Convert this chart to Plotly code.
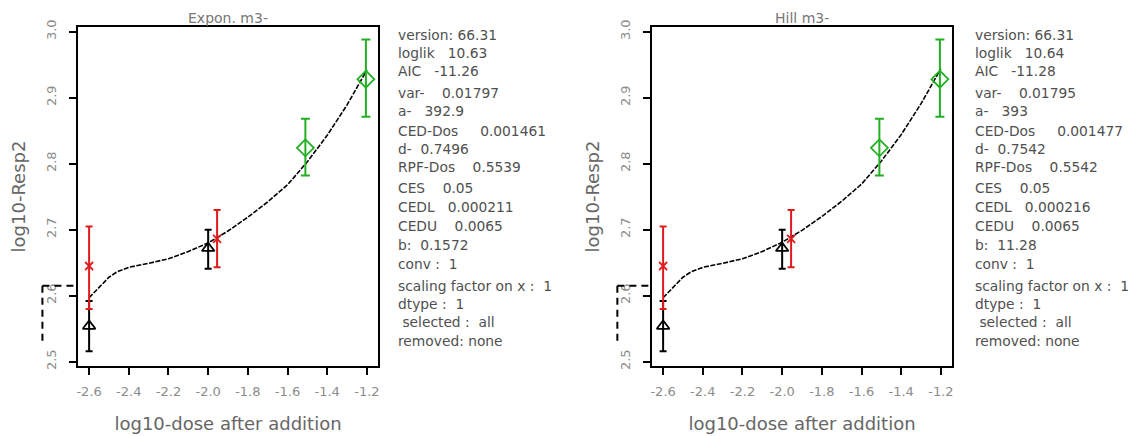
import math
import plotly.graph_objects as go

# ---------------- data ----------------
black_x = [-2.6, -2.0]
black_y = [2.554, 2.672]
black_lo = [2.516, 2.641]
black_hi = [2.592, 2.700]

red_x = [-2.6, -1.955]
red_y = [2.645, 2.686]
red_lo = [2.580, 2.643]
red_hi = [2.705, 2.730]

green_x = [-1.51, -1.205]
green_y = [2.824, 2.928]
green_lo = [2.782, 2.871]
green_hi = [2.868, 2.988]

curve_x = [-2.6, -2.57, -2.54, -2.5, -2.46, -2.4, -2.3, -2.2, -2.1, -2.0, -1.9, -1.8, -1.7,
           -1.6, -1.5, -1.4, -1.3, -1.2]
expon_y = [2.597, 2.606, 2.616, 2.628, 2.636, 2.643, 2.649, 2.656, 2.667, 2.680, 2.698, 2.719, 2.742,
           2.768, 2.803, 2.843, 2.889, 2.942]
hill_y = [2.597, 2.606, 2.616, 2.628, 2.636, 2.643, 2.649, 2.656, 2.667, 2.681, 2.699, 2.720, 2.743,
          2.769, 2.804, 2.844, 2.891, 2.944]

ced_expon = 0.001461
ced_hill = 0.001477
ces_level = 2.615
ced_drop = 2.53

x_ticks = [-2.6, -2.4, -2.2, -2.0, -1.8, -1.6, -1.4, -1.2]
x_ticktext = ["-2.6", "-2.4", "-2.2", "-2.0", "-1.8", "-1.6", "-1.4", "-1.2"]
y_ticks = [2.5, 2.6, 2.7, 2.8, 2.9, 3.0]
y_ticktext = ["2.5", "2.6", "2.7", "2.8", "2.9", "3.0"]

titles = ["Expon. m3-", "Hill m3-"]
expon_text = ["version: 66.31", "loglik   10.63", "AIC   -11.26", "var-    0.01797", "a-   392.9",
              "CED-Dos     0.001461", "d-  0.7496", "RPF-Dos    0.5539", "CES    0.05", "CEDL   0.000211",
              "CEDU    0.0065", "b:  0.1572", "conv :  1", "scaling factor on x :  1", "dtype :  1",
              " selected :  all", "removed: none"]
hill_text = ["version: 66.31", "loglik   10.64", "AIC   -11.28", "var-    0.01795", "a-   393",
             "CED-Dos     0.001477", "d-  0.7542", "RPF-Dos    0.5542", "CES    0.05", "CEDL   0.000216",
             "CEDU    0.0065", "b:  11.28", "conv :  1", "scaling factor on x :  1", "dtype :  1",
             " selected :  all", "removed: none"]
text_rows_px = [35, 53, 71, 93, 111, 131, 149, 167, 188, 207, 226, 245, 264, 286, 304, 322, 341]

W, H = 1143, 436
XR = [-2.656, -1.144]
YR = [2.4935, 3.0071]
doms = [[78 / W, 378 / W], [652 / W, 952 / W]]
ydom = [1 - 366 / H, 1 - 27 / H]

fig = go.Figure()
RED = "#e01b1b"
GREEN = "#22b022"
TXT = "#505050"
GRAY = "#8c8c8c"
FONT = "DejaVu Sans, Liberation Sans, sans-serif"

shapes = []
for i, (cy, ced, title, lines) in enumerate([(expon_y, ced_expon, titles[0], expon_text),
                                            (hill_y, ced_hill, titles[1], hill_text)]):
    xa = "x" if i == 0 else "x2"
    ya = "y" if i == 0 else "y2"
    # fitted curve
    fig.add_trace(go.Scatter(x=curve_x, y=cy, mode="lines", xaxis=xa, yaxis=ya,
                             line=dict(color="black", width=1.6, dash="5px,1.5px"),
                             showlegend=False, hoverinfo="skip"))
    # CED marker lines (outside the plot box, x converted through the axis scale)
    d = doms[i]
    scale = (d[1] - d[0]) / (XR[1] - XR[0])

    def to_paper(v, d=d, scale=scale):
        return d[0] + (v - XR[0]) * scale

    lc = math.log10(ced)
    dash_line = dict(color="black", width=2, dash="7px,5px")
    shapes.append(dict(type="line", xref="paper", yref=ya, x0=to_paper(lc), x1=to_paper(XR[0]),
                       y0=ces_level, y1=ces_level, line=dash_line))
    shapes.append(dict(type="line", xref="paper", yref=ya, x0=to_paper(lc), x1=to_paper(lc),
                       y0=ces_level, y1=ced_drop, line=dash_line))
    for xs, ys, lo, hi, col, sym, size, cap in [
        (black_x, black_y, black_lo, black_hi, "black", "triangle-up-open", 11, 3.5),
        (red_x, red_y, red_lo, red_hi, RED, "x-thin-open", 8, 3.5),
        (green_x, green_y, green_lo, green_hi, GREEN, "diamond-open", 13, 4.5),
    ]:
        fig.add_trace(go.Scatter(
            x=xs, y=ys, mode="markers", xaxis=xa, yaxis=ya,
            marker=dict(symbol=sym, size=size, color=col, line=dict(color=col, width=1.8)),
            error_y=dict(type="data", symmetric=False,
                         array=[h - m for h, m in zip(hi, ys)],
                         arrayminus=[m - l for l, m in zip(lo, ys)],
                         color=col, thickness=2, width=cap),
            showlegend=False, hoverinfo="skip"))
    fig.add_annotation(text=title, xref="paper", yref="paper", x=(d[0] + d[1]) / 2, y=1 - 18 / H,
                       showarrow=False, font=dict(size=14, color="#777777", family=FONT),
                       xanchor="center", yanchor="middle")
    tx = (396 if i == 0 else 973) / W
    for ln, row in zip(lines, text_rows_px):
        fig.add_annotation(text=ln.replace(" ", "&nbsp;"), xref="paper", yref="paper", x=tx, y=1 - row / H,
                           showarrow=False, xanchor="left", yanchor="middle",
                           font=dict(size=13.8, color=TXT, family=FONT))

axis_common = dict(showline=True, mirror=True, linecolor="black", linewidth=1.5,
                   ticks="outside", ticklen=7, tickwidth=1.5, tickcolor="black", automargin=False,
                   showgrid=False, zeroline=False, tickfont=dict(size=13, color=GRAY, family=FONT))
layout = dict(width=W, height=H, margin=dict(l=0, r=0, t=0, b=0, autoexpand=False),
              plot_bgcolor="white", paper_bgcolor="white", showlegend=False, shapes=shapes)
for i in range(2):
    sfx = "" if i == 0 else "2"
    layout["xaxis" + sfx] = dict(domain=doms[i], range=XR, anchor="y" + sfx, tickvals=x_ticks,
                                 ticktext=x_ticktext, ticklabelstandoff=6,
                                 title=dict(text="log10-dose after addition", standoff=19,
                                            font=dict(size=18, color="#666666", family=FONT)),
                                 **axis_common)
    layout["yaxis" + sfx] = dict(domain=ydom, range=YR, anchor="x" + sfx, tickvals=y_ticks,
                                 ticktext=y_ticktext, tickangle=-90, ticklabelstandoff=8,
                                 title=dict(text="log10-Resp2", standoff=14,
                                            font=dict(size=18, color="#666666", family=FONT)),
                                 **axis_common)
fig.update_layout(**layout)
fig.write_html("out.html", config={"displayModeBar": False},
               post_script="document.body.style.margin='0px';")
